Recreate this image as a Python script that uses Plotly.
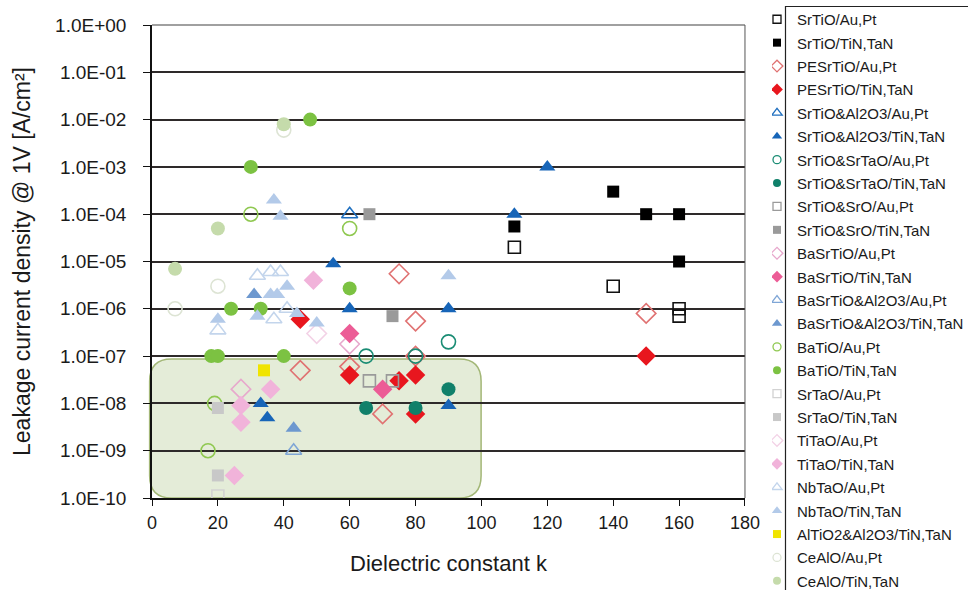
import plotly.graph_objects as go

# ---------------- data (k, leakage current density A/cm^2) ----------------
series_names = [
    "SrTiO/Au,Pt", "SrTiO/TiN,TaN", "PESrTiO/Au,Pt", "PESrTiO/TiN,TaN",
    "SrTiO&Al2O3/Au,Pt", "SrTiO&Al2O3/TiN,TaN", "SrTiO&SrTaO/Au,Pt", "SrTiO&SrTaO/TiN,TaN",
    "SrTiO&SrO/Au,Pt", "SrTiO&SrO/TiN,TaN", "BaSrTiO/Au,Pt", "BaSrTiO/TiN,TaN",
    "BaSrTiO&Al2O3/Au,Pt", "BaSrTiO&Al2O3/TiN,TaN", "BaTiO/Au,Pt", "BaTiO/TiN,TaN",
    "SrTaO/Au,Pt", "SrTaO/TiN,TaN", "TiTaO/Au,Pt", "TiTaO/TiN,TaN",
    "NbTaO/Au,Pt", "NbTaO/TiN,TaN", "AlTiO2&Al2O3/TiN,TaN", "CeAlO/Au,Pt", "CeAlO/TiN,TaN",
]

srtio_au_k = [110, 140, 160, 160]
srtio_au_j = [2e-5, 3e-6, 1e-6, 7e-7]
srtio_tin_k = [110, 140, 150, 160, 160]
srtio_tin_j = [5.5e-5, 3e-4, 1e-4, 1e-4, 1e-5]
pesrtio_au_k = [45, 60, 75, 80, 80, 70, 150]
pesrtio_au_j = [5e-8, 6e-8, 5.5e-6, 5.5e-7, 1e-7, 6e-9, 8e-7]
pesrtio_tin_k = [45, 60, 75, 80, 80, 150]
pesrtio_tin_j = [6e-7, 4e-8, 3e-8, 4e-8, 6e-9, 1e-7]
srtio_al_au_k = [60]
srtio_al_au_j = [1e-4]
srtio_al_tin_k = [33, 35, 55, 60, 90, 90, 110, 120]
srtio_al_tin_j = [1e-8, 5e-9, 9e-6, 1e-6, 1e-6, 9e-9, 1e-4, 1e-3]
srtio_srtao_au_k = [65, 80, 90]
srtio_srtao_au_j = [1e-7, 1e-7, 2e-7]
srtio_srtao_tin_k = [65, 80, 90]
srtio_srtao_tin_j = [8e-9, 8e-9, 2e-8]
srtio_sro_au_k = [66, 73]
srtio_sro_au_j = [3e-8, 3e-8]
srtio_sro_tin_k = [66, 73]
srtio_sro_tin_j = [1e-4, 7e-7]
basrtio_au_k = [27, 60]
basrtio_au_j = [2e-8, 1.8e-7]
basrtio_tin_k = [60, 70]
basrtio_tin_j = [3e-7, 2e-8]
basrtio_al_au_k = [43]
basrtio_al_au_j = [1e-9]
basrtio_al_tin_k = [31, 43]
basrtio_al_tin_j = [2e-6, 3e-9]
batio_au_k = [30, 60, 19, 17]
batio_au_j = [1e-4, 5e-5, 1e-8, 1e-9]
batio_tin_k = [48, 30, 24, 33, 60, 18, 20, 40]
batio_tin_j = [1e-2, 1e-3, 1e-6, 1e-6, 2.7e-6, 1e-7, 1e-7, 1e-7]
srtao_au_k = [20]
srtao_au_j = [1.1e-10]
srtao_tin_k = [20, 20]
srtao_tin_j = [8e-9, 3e-10]
titao_au_k = [50]
titao_au_j = [3e-7]
titao_tin_k = [49, 36, 27, 27, 25]
titao_tin_j = [4e-6, 2e-8, 9e-9, 4e-9, 3e-10]
nbtao_au_k = [32, 36, 39, 37, 20, 41]
nbtao_au_j = [5e-6, 6e-6, 6e-6, 6e-7, 3.5e-7, 1e-6]
nbtao_tin_k = [37, 39, 41, 36, 38, 32, 20, 44, 50, 90]
nbtao_tin_j = [2e-4, 9e-5, 3e-6, 2e-6, 2e-6, 7e-7, 6e-7, 8e-7, 5e-7, 5e-6]
altio_tin_k = [34]
altio_tin_j = [5e-8]
cealo_au_k = [40, 20, 7]
cealo_au_j = [6e-3, 3e-6, 1e-6]
cealo_tin_k = [40, 20, 7]
cealo_tin_j = [8e-3, 5e-5, 7e-6]

y_tick_vals = [1e-10, 1e-9, 1e-8, 1e-7, 1e-6, 1e-5, 1e-4, 1e-3, 1e-2, 1e-1, 1e0]
y_tick_text = ["1.0E-10", "1.0E-09", "1.0E-08", "1.0E-07", "1.0E-06", "1.0E-05",
               "1.0E-04", "1.0E-03", "1.0E-02", "1.0E-01", "1.0E+00"]
x_tick_vals = [0, 20, 40, 60, 80, 100, 120, 140, 160, 180]

series_k = [srtio_au_k, srtio_tin_k, pesrtio_au_k, pesrtio_tin_k, srtio_al_au_k, srtio_al_tin_k,
            srtio_srtao_au_k, srtio_srtao_tin_k, srtio_sro_au_k, srtio_sro_tin_k, basrtio_au_k,
            basrtio_tin_k, basrtio_al_au_k, basrtio_al_tin_k, batio_au_k, batio_tin_k, srtao_au_k,
            srtao_tin_k, titao_au_k, titao_tin_k, nbtao_au_k, nbtao_tin_k, altio_tin_k,
            cealo_au_k, cealo_tin_k]
series_j = [srtio_au_j, srtio_tin_j, pesrtio_au_j, pesrtio_tin_j, srtio_al_au_j, srtio_al_tin_j,
            srtio_srtao_au_j, srtio_srtao_tin_j, srtio_sro_au_j, srtio_sro_tin_j, basrtio_au_j,
            basrtio_tin_j, basrtio_al_au_j, basrtio_al_tin_j, batio_au_j, batio_tin_j, srtao_au_j,
            srtao_tin_j, titao_au_j, titao_tin_j, nbtao_au_j, nbtao_tin_j, altio_tin_j,
            cealo_au_j, cealo_tin_j]

# ---------------- styles ----------------
symbols = [
    "square-open", "square", "diamond-open", "diamond",
    "triangle-up-open", "triangle-up", "circle-open", "circle",
    "square-open", "square", "diamond-open", "diamond",
    "triangle-up-open", "triangle-up", "circle-open", "circle",
    "square-open", "square", "diamond-open", "diamond",
    "triangle-up-open", "triangle-up", "square", "circle-open", "circle",
]
colors = [
    "#111111", "#000000", "#e07272", "#e8161e",
    "#1f6fbf", "#1765b8", "#1a8c74", "#10806a",
    "#9a9a9a", "#9a9a9a", "#e7a8cc", "#ec5c96",
    "#7fa6d6", "#6d98cf", "#8fc850", "#7cc242",
    "#d2d2d2", "#c8c8c8", "#f3d2e6", "#f1b3da",
    "#c3d5ec", "#b3cae9", "#f0e400", "#dde4d4", "#c5dbab",
]
base_sizes = {"square": 12, "diamond": 15, "triangle-up": 14, "circle": 14}
legend_sizes = {"square": 8, "diamond": 9, "triangle-up": 9, "circle": 8}

FONT = "Liberation Sans, Arial, sans-serif"

fig = go.Figure()

for name, ks, js, sym, col in zip(series_names, series_k, series_j, symbols, colors):
    base = sym.replace("-open", "")
    is_open = sym.endswith("-open")
    fig.add_trace(go.Scatter(
        x=ks, y=js, mode="markers", name=name, legendgroup=name, showlegend=False,
        marker=dict(symbol=sym, size=base_sizes[base], color=col,
                    line=dict(width=1.6 if is_open else 0, color=col)),
        hoverinfo="x+y+name",
    ))
    fig.add_trace(go.Scatter(
        x=[None], y=[None], mode="markers", name=name, legendgroup=name, showlegend=True,
        marker=dict(symbol=sym, size=legend_sizes[base], color=col,
                    line=dict(width=1.3 if is_open else 0, color=col)),
    ))

# rounded shaded region (paper coordinates of the plot area)
x0, x1, y0, y1 = -0.004, 0.555, 0.0, 0.294
rx, ry = 0.037, 0.047
path = (f"M {x0+rx},{y0} L {x1-rx},{y0} Q {x1},{y0} {x1},{y0+ry} "
        f"L {x1},{y1-ry} Q {x1},{y1} {x1-rx},{y1} L {x0+rx},{y1} "
        f"Q {x0},{y1} {x0},{y1-ry} L {x0},{y0+ry} Q {x0},{y0} {x0+rx},{y0} Z")

shapes = [
    dict(type="path", xref="paper", yref="paper", path=path, layer="below",
         fillcolor="#e4ecd8", line=dict(color="#a3b777", width=1.5)),
    # top and right frame of the plot area
    dict(type="line", xref="paper", yref="paper", x0=0, x1=1, y0=1, y1=1, layer="above",
         line=dict(color="#a0a0a0", width=2)),
    dict(type="line", xref="paper", yref="paper", x0=1, x1=1, y0=0, y1=1, layer="above",
         line=dict(color="#555555", width=1)),
    # legend frame
    dict(type="rect", xref="paper", yref="paper", x0=(793 - 152) / 600, x1=2.0,
         y0=-0.3, y1=(498 - 6.5) / 473, layer="above", fillcolor="rgba(0,0,0,0)",
         line=dict(color="#222222", width=1.2)),
]

fig.update_layout(
    width=968, height=590,
    margin=dict(l=152, r=216, t=25, b=92),
    paper_bgcolor="#ffffff",
    plot_bgcolor="rgba(0,0,0,0)",
    font=dict(family=FONT, color="#1a1a1a"),
    shapes=shapes,
    legend=dict(
        x=772 / 968, xref="container", xanchor="left",
        y=1 - 3.0 / 590, yref="container", yanchor="top",
        font=dict(family=FONT, size=15, color="#1a1a1a"),
        traceorder="grouped", tracegroupgap=0.9,
        bgcolor="rgba(0,0,0,0)", borderwidth=0, maxheight=1000,
        itemsizing="trace", indentation=-15,
    ),
    xaxis=dict(
        range=[0, 180], tickvals=x_tick_vals, ticks="outside", ticklen=6, tickwidth=1.3,
        tickcolor="#111111", showline=True, linecolor="#111111", linewidth=1.5,
        showgrid=False, zeroline=False, tickfont=dict(size=18, family=FONT),
        ticklabelstandoff=2,
        title=dict(text="Dielectric constant k", font=dict(size=22, family=FONT), standoff=23),
    ),
    yaxis=dict(
        type="log", range=[-10, 0], tickvals=y_tick_vals, ticktext=y_tick_text,
        ticks="outside", ticklen=7, tickwidth=1.3, tickcolor="#111111",
        showline=True, linecolor="#111111", linewidth=1.5,
        showgrid=True, gridcolor="#2e2a2a", gridwidth=1.8, zeroline=False,
        tickfont=dict(size=19, family=FONT), ticklabelstandoff=13,
        title=dict(text="Leakage current density @ 1V [A/cm²]", font=dict(size=23, family=FONT),
                   standoff=18),
    ),
)

fig.write_html(
    "out.html",
    config={"displayModeBar": False},
    post_script="document.body.style.margin='0';document.body.style.overflow='hidden';",
)
